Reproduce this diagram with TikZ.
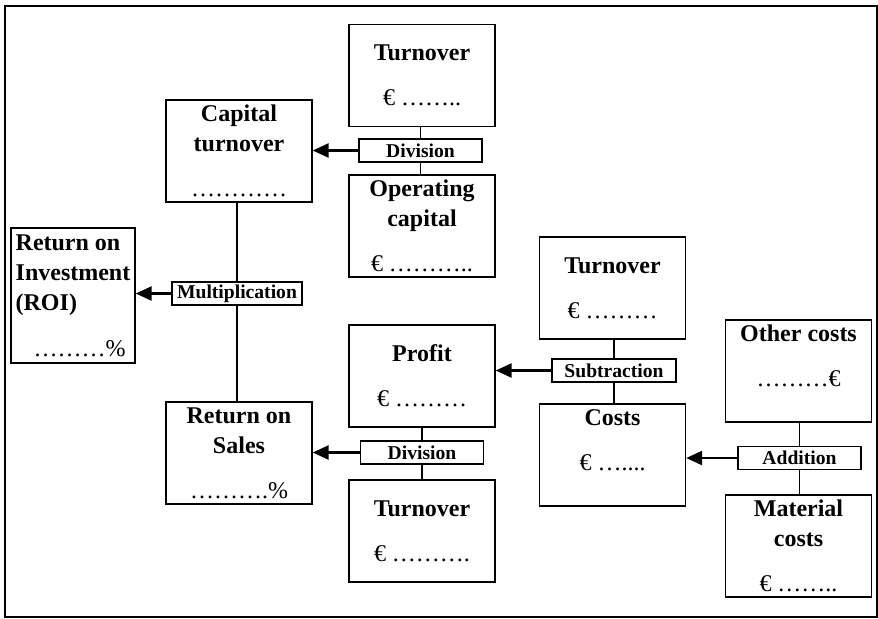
\documentclass[tikz,border=0pt]{standalone}
\usepackage{fontspec}
\setmainfont{Liberation Serif}
\usepackage{tikz}
\usetikzlibrary{arrows.meta,positioning}
\tikzset{
  valbox/.style={draw,line width=.7pt,fill=white,minimum width=73pt,minimum height=51pt,align=center,inner sep=1.5pt,font=\fontsize{12}{15}\selectfont},
  opbox/.style={draw,line width=.7pt,fill=white,minimum width=61.5pt,minimum height=11.5pt,inner sep=1pt,font=\fontsize{9.8}{11}\selectfont\bfseries},
  flowarrow/.style={-{Triangle[length=8pt,width=7pt]},line width=1.3pt}
}

\begin{document}
\begin{tikzpicture}[x=.5pt,y=-.5pt]
\useasboundingbox (0,0) rectangle (878,618);
\draw[line width=.75pt] (5,6) rectangle (877,617);
% ratio boxes
\node[valbox] (turnA) at (422,75.5) {\textbf{Turnover}\\[7.5pt]€ ……..};
\node[valbox] (capturn) at (239,151) {\textbf{Capital}\\\textbf{turnover}\\[7.5pt]…………};
\node[valbox] (opcap) at (422,226) {\textbf{Operating}\\\textbf{capital}\\[7.5pt]€ ………..};
\node[valbox,minimum width=62pt,minimum height=67.5pt,align=left] (roi) at (73,295.5) {\textbf{Return on}\\\textbf{Investment}\\\textbf{(ROI)}\\[8pt]\hspace*{9pt}………\%};
\node[valbox] (profit) at (422,376) {\textbf{Profit}\\[7.5pt]€ ………};
\node[valbox] (ros) at (239,453) {\textbf{Return on}\\\textbf{Sales}\\[7.5pt]……….\%};
\node[valbox] (turnC) at (422,531) {\textbf{Turnover}\\[7.5pt]€ ……….};
\node[valbox] (turnB) at (612.5,288) {\textbf{Turnover}\\[7.5pt]€ ………};
\node[valbox] (costs) at (612.5,455) {\textbf{Costs}\\[7.5pt]€ …....\\\mbox{}};
\node[valbox] (other) at (798.5,371) {\textbf{Other costs}\\[7.5pt]………€\\\mbox{}};
\node[valbox] (material) at (798.5,546) {\textbf{Material}\\\textbf{costs}\\[7.5pt]€ ……..};
% operations
\node[opbox] (divA) at (420.5,150.5) {Division};
\node[opbox,minimum width=65pt] (mult) at (237,293.5) {Multiplication};
\node[opbox,minimum width=62pt] (subtr) at (614,370.5) {Subtraction};
\node[opbox] (divB) at (422,452.5) {Division};
\node[opbox] (addit) at (799.5,458) {Addition};
\foreach \op/\up/\down/\res in {divA/turnA/opcap/capturn,mult/capturn/ros/roi,subtr/turnB/costs/profit,divB/profit/turnC/ros,addit/other/material/costs}{
  \draw[line width=.7pt] (\op.north) -- (\op.north |- \up.south);
  \draw[line width=.7pt] (\op.south) -- (\op.south |- \down.north);
  \draw[flowarrow] (\op.west) -- (\op.west -| \res.east);
}
\end{tikzpicture}
\end{document}
